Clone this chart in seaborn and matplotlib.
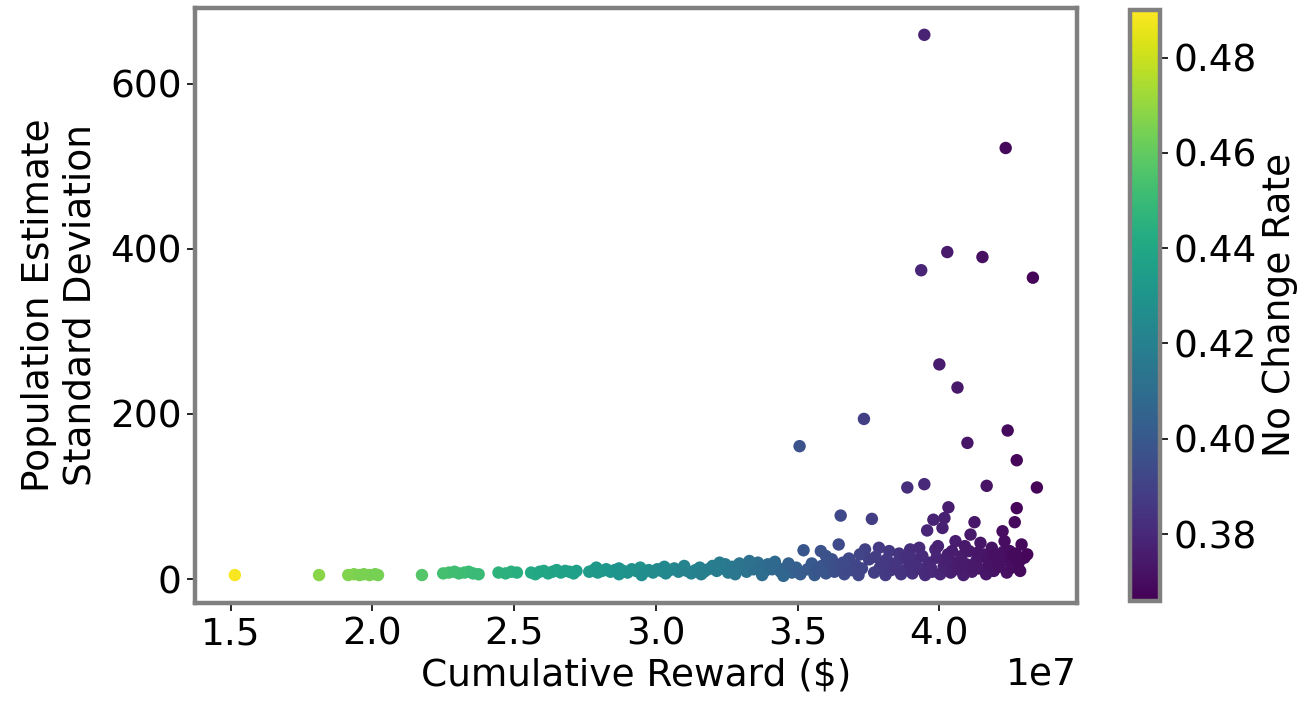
import numpy as np
import matplotlib
matplotlib.use("Agg")
import matplotlib.pyplot as plt
import seaborn as sns
from matplotlib.colors import Normalize
from matplotlib.cm import ScalarMappable

# cumulative reward, in units of 1e7 $
reward_1e7 = [
    1.515, 1.812, 1.915, 1.935, 1.955, 1.970, 1.990, 2.010, 2.020, 2.175,
    2.250, 2.270, 2.290, 2.305, 2.325, 2.340, 2.355, 2.375, 2.445, 2.470,
    2.490, 2.510, 2.560, 2.575, 2.590, 2.605, 2.620, 2.635, 2.650, 2.665,
    2.680, 2.695, 2.710, 2.720, 2.765, 2.780, 2.795, 2.810, 2.825, 2.840,
    2.855, 2.870, 2.885, 2.900, 2.915, 2.930, 2.945, 2.960, 2.975, 2.990,
    3.005, 3.020, 3.035, 3.050, 3.065, 3.080, 3.095, 3.110, 3.125, 3.140,
    3.155, 3.170, 3.185, 3.200, 3.215, 3.230, 3.245, 3.255, 3.270, 3.285,
    3.295, 3.310, 3.320, 3.335, 3.345, 3.360, 3.370, 3.385, 3.395, 3.410,
    3.425, 3.440, 3.455,
    3.468, 3.480, 3.495, 3.507, 3.510, 3.521, 3.535, 3.550, 3.560, 3.570,
    3.582, 3.585, 3.600, 3.610, 3.621, 3.630, 3.645, 3.645, 3.652, 3.665,
    3.681, 3.690, 3.705, 3.715, 3.727, 3.734, 3.738, 3.752, 3.762, 3.770,
    3.787, 3.790, 3.798, 3.810, 3.823, 3.830, 3.844, 3.858, 3.865, 3.869,
    3.887, 3.894, 3.897, 3.905, 3.915, 3.929, 3.935, 3.936, 3.947, 3.947,
    3.950, 3.957, 3.962, 3.975, 3.979, 3.986, 3.990, 4.000, 4.003, 4.011,
    4.015, 4.018, 4.028, 4.030, 4.032, 4.040, 4.050, 4.057, 4.064, 4.065,
    4.078, 4.085, 4.095, 4.099, 4.105, 4.110, 4.115, 4.124, 4.130, 4.140,
    4.145, 4.152, 4.155, 4.165, 4.167, 4.175, 4.185, 4.192, 4.200, 4.210,
    4.223, 4.225, 4.230, 4.234, 4.238, 4.241, 4.245, 4.248, 4.255, 4.266,
    4.270, 4.273, 4.273, 4.280, 4.290, 4.300, 4.330, 4.344,
    # extra points filling the dense low band
    2.790, 2.870, 2.950, 3.030, 3.100, 3.160, 3.225, 3.280, 3.330, 3.375,
    3.420, 3.450,
    3.600, 3.660, 3.720, 3.775, 3.815, 3.850, 3.880, 3.920, 3.940, 3.970,
    3.995, 4.025, 4.045, 4.070, 4.090, 4.120, 4.135, 4.170, 4.195, 4.215,
    4.260, 4.285, 4.310,
]

std_dev = [
    5, 5, 5, 6, 5, 6, 5, 6, 5, 5,
    7, 8, 9, 7, 8, 9, 7, 6, 8, 7,
    9, 8, 8, 6, 9, 10, 7, 9, 11, 8,
    10, 9, 7, 10, 9, 11, 8, 10, 12, 9,
    11, 13, 10, 8, 12, 10, 14, 9, 11, 8,
    12, 10, 7, 11, 13, 9, 12, 10, 7, 11,
    14, 9, 12, 16, 10, 13, 18, 8, 15, 11,
    19, 13, 9, 17, 12, 20, 14, 10, 18, 12,
    15, 9, 13,
    19, 8, 14, 161, 6, 35, 12, 19, 5, 10,
    34, 16, 7, 20, 24, 9, 42, 13, 77, 6,
    25, 11, 17, 5, 13, 194, 36, 24, 73, 8,
    38, 14, 19, 5, 34, 11, 13, 31, 6, 10,
    111, 18, 36, 7, 24, 38, 12, 374, 115, 659,
    5, 59, 20, 9, 72, 36, 26, 260, 6, 62,
    15, 74, 396, 30, 87, 8, 20, 46, 232, 12,
    28, 5, 18, 165, 34, 54, 9, 69, 22, 13,
    44, 390, 30, 6, 113, 18, 38, 10, 25, 15,
    58, 33, 46, 522, 8, 180, 22, 34, 14, 69,
    31, 86, 144, 20, 42, 26, 365, 111,
    14, 6, 5, 15, 16, 6, 20, 6, 22, 5,
    21, 4,
    28, 20, 30, 27, 24, 20, 26, 16, 28, 14,
    40, 22, 34, 16, 40, 14, 32, 24, 30, 20,
    28, 10, 30,
]

no_change_rate = [
    0.489, 0.468, 0.466, 0.466, 0.465, 0.465, 0.465, 0.464, 0.464, 0.457,
    0.453, 0.453, 0.452, 0.452, 0.451, 0.451, 0.450, 0.450, 0.446, 0.445,
    0.445, 0.444, 0.441, 0.441, 0.440, 0.440, 0.439, 0.439, 0.438, 0.438,
    0.437, 0.437, 0.436, 0.436, 0.434, 0.434, 0.433, 0.433, 0.432, 0.431,
    0.431, 0.430, 0.430, 0.429, 0.429, 0.428, 0.428, 0.427, 0.427, 0.426,
    0.425, 0.425, 0.424, 0.424, 0.423, 0.423, 0.422, 0.421, 0.421, 0.420,
    0.420, 0.419, 0.419, 0.418, 0.417, 0.417, 0.416, 0.416, 0.415, 0.414,
    0.414, 0.413, 0.413, 0.412, 0.411, 0.411, 0.410, 0.410, 0.409, 0.408,
    0.408, 0.407, 0.406,
    0.404, 0.404, 0.403, 0.397, 0.402, 0.399, 0.401, 0.400, 0.400, 0.399,
    0.397, 0.398, 0.398, 0.397, 0.396, 0.396, 0.394, 0.395, 0.393, 0.394,
    0.393, 0.393, 0.392, 0.392, 0.391, 0.389, 0.390, 0.389, 0.388, 0.389,
    0.387, 0.388, 0.387, 0.387, 0.386, 0.386, 0.385, 0.384, 0.385, 0.384,
    0.382, 0.383, 0.382, 0.383, 0.382, 0.381, 0.381, 0.379, 0.380, 0.378,
    0.381, 0.379, 0.380, 0.380, 0.378, 0.379, 0.379, 0.376, 0.379, 0.377,
    0.378, 0.377, 0.375, 0.377, 0.376, 0.377, 0.376, 0.376, 0.374, 0.376,
    0.375, 0.376, 0.375, 0.373, 0.374, 0.374, 0.375, 0.373, 0.374, 0.374,
    0.373, 0.371, 0.373, 0.373, 0.372, 0.372, 0.372, 0.372, 0.371, 0.371,
    0.370, 0.371, 0.370, 0.369, 0.371, 0.369, 0.370, 0.370, 0.370, 0.369,
    0.369, 0.368, 0.368, 0.369, 0.369, 0.369, 0.367, 0.367,
    0.433, 0.430, 0.427, 0.424, 0.422, 0.419, 0.417, 0.415, 0.412, 0.410,
    0.408, 0.407,
    0.397, 0.394, 0.391, 0.388, 0.386, 0.385, 0.383, 0.382, 0.381, 0.380,
    0.378, 0.377, 0.376, 0.375, 0.374, 0.374, 0.373, 0.372, 0.371, 0.371,
    0.369, 0.369, 0.368,
]

assert len(reward_1e7) == len(std_dev) == len(no_change_rate)

reward = np.array(reward_1e7) * 1e7

FS = 27
SPINE = "#808080"

fig = plt.figure(figsize=(13.07, 7.06), dpi=100)
ax = fig.add_axes([0.149, 0.146, 0.675, 0.843])
cax = fig.add_axes([0.8646, 0.149, 0.023, 0.837])

norm = Normalize(vmin=0.366, vmax=0.490)
sns.scatterplot(x=reward, y=std_dev, hue=no_change_rate, palette="viridis",
                hue_norm=norm, s=80, linewidth=0, legend=False, ax=ax)

ax.set_xlabel("Cumulative Reward ($)", fontsize=FS)
ax.set_ylabel("Population Estimate\nStandard Deviation", fontsize=FS, labelpad=8)
ax.set_yticks([0, 200, 400, 600])
ax.tick_params(labelsize=FS, length=6, width=1.2)
ax.xaxis.get_offset_text().set_fontsize(FS)
for sp in ax.spines.values():
    sp.set_color(SPINE)
    sp.set_linewidth(3.2)

cbar = fig.colorbar(ScalarMappable(norm=norm, cmap="viridis"), cax=cax)
cbar.set_label("No Change Rate", fontsize=FS)
cbar.ax.tick_params(labelsize=FS, length=6, width=1.2)
cbar.outline.set_edgecolor(SPINE)
cbar.outline.set_linewidth(3.2)

fig.savefig("out.png", dpi=100)
